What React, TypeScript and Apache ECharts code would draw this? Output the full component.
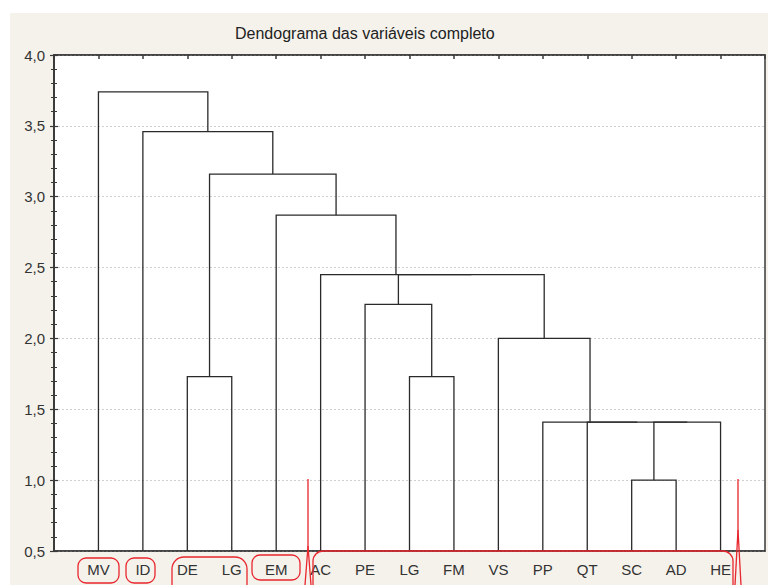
import React, { useEffect, useRef } from "react";
import * as echarts from "echarts";

// Leaves of the dendrogram, in drawing order (left to right)
const leafLabels = ["MV", "ID", "DE", "LG", "EM", "AC", "PE", "LG", "FM", "VS", "PP", "QT", "SC", "AD", "HE"];

// Merges: node indices 0..14 are leaves, merge k creates node 15 + k
const mergeLeft = [12, 15, 11, 10, 9, 7, 6, 21, 5, 4, 2, 25, 1, 0];
const mergeRight = [13, 14, 16, 17, 18, 8, 20, 19, 22, 23, 3, 24, 26, 27];
const mergeHeight = [1.0, 1.41, 1.41, 1.41, 2.0, 1.73, 2.24, 2.45, 2.45, 2.87, 1.73, 3.16, 3.46, 3.74];

// Y axis range / ticks
const yMin = 0.5;
const yMax = 4.0;
const yStep = 0.5;

const FONT = "'Liberation Sans', Arial, sans-serif";
const RED = "#e8262d";
const INK = "#2a2a2a";

function buildLinks() {
  const xs: number[] = leafLabels.map((_, i) => i + 1);
  const ys: number[] = leafLabels.map(() => yMin);
  const links: number[][] = [];
  mergeHeight.forEach((h, k) => {
    const l = mergeLeft[k];
    const r = mergeRight[k];
    links.push([xs[l], ys[l], xs[r], ys[r], h]);
    xs.push((xs[l] + xs[r]) / 2);
    ys.push(h);
  });
  return links;
}

export default function App() {
  const ref = useRef<HTMLDivElement>(null);
  useEffect(() => {
    if (!ref.current) return;
    const chart = echarts.init(ref.current, undefined, { renderer: "svg" });
    const links = buildLinks();
    const fmtY = (v: number) => v.toFixed(1).replace(".", ",");
    const axisLine = { show: true, lineStyle: { color: "#3a3a3a", width: 1.5 } };
    chart.setOption({
      animation: false,
      backgroundColor: "#f5f2eb",
      title: {
        text: "Dendograma das variáveis completo",
        left: 230,
        top: 20,
        textStyle: { fontFamily: FONT, fontSize: 16, fontWeight: "normal", color: "#222" },
      },
      grid: {
        left: 54,
        right: 3,
        top: 55,
        bottom: 34,
        show: true,
        backgroundColor: "#ffffff",
        borderColor: "#3a3a3a",
        borderWidth: 1.5,
        outerBoundsMode: "none",
        containLabel: false,
      },
      xAxis: [
        {
          type: "value",
          min: 0,
          max: leafLabels.length + 1,
          interval: 1,
          position: "bottom",
          axisLine,
          axisTick: { show: false },
          splitLine: { show: false },
          axisLabel: {
            margin: 11,
            fontFamily: FONT,
            fontSize: 15,
            color: "#333",
            formatter: (v: number) => leafLabels[v - 1] ?? "",
          },
        },
        {
          type: "value",
          min: 0,
          max: leafLabels.length + 1,
          interval: 1,
          position: "top",
          axisLine,
          axisTick: { show: true, inside: true, length: 4, lineStyle: { color: "#3a3a3a", width: 1.5 } },
          splitLine: { show: false },
          axisLabel: { show: false },
        },
      ],
      yAxis: [
        {
          type: "value",
          min: yMin,
          max: yMax,
          interval: yStep,
          position: "left",
          axisLine,
          axisTick: { show: true, inside: true, length: 4, lineStyle: { color: "#3a3a3a", width: 1.2 } },
          minorTick: { show: true, splitNumber: 5, length: 3, lineStyle: { color: "#3a3a3a", width: 1 } },
          splitLine: { show: true, lineStyle: { color: "#cfcfcf", type: [2, 2], width: 1 } },
          axisLabel: { margin: 9, fontFamily: FONT, fontSize: 15, color: "#333", formatter: fmtY },
        },
        {
          type: "value",
          min: yMin,
          max: yMax,
          interval: yStep,
          position: "right",
          axisLine,
          axisTick: { show: true, inside: true, length: 4, lineStyle: { color: "#3a3a3a", width: 1.2 } },
          minorTick: { show: true, splitNumber: 5, length: 3, lineStyle: { color: "#3a3a3a", width: 1 } },
          splitLine: { show: false },
          axisLabel: { show: false },
        },
      ],
      series: [
        {
          type: "custom",
          xAxisIndex: 0,
          yAxisIndex: 0,
          encode: { x: [0, 2], y: [1, 3, 4] },
          data: links,
          renderItem: (params: any, api: any) => {
            const xl = api.value(0);
            const yl = api.value(1);
            const xr = api.value(2);
            const yr = api.value(3);
            const h = api.value(4);
            const p1 = api.coord([xl, yl]);
            const p2 = api.coord([xl, h]);
            const p3 = api.coord([xr, h]);
            const p4 = api.coord([xr, yr]);
            return {
              type: "polyline",
              shape: { points: [p1, p2, p3, p4] },
              style: { stroke: INK, lineWidth: 1.3, fill: null },
            };
          },
        },
      ],
      graphic: [
        { type: "rect", silent: true, shape: { x: 0, y: 0, width: 768, height: 13 }, style: { fill: "#ffffff" } },
        { type: "rect", silent: true, shape: { x: 0, y: 0, width: 10, height: 585 }, style: { fill: "#ffffff" } },
        // hand-drawn red annotations
        { type: "rect", silent: true, z: 100, shape: { x: 78, y: 558, width: 41, height: 25, r: 8 }, style: { fill: "none", stroke: RED, lineWidth: 1.3 } },
        { type: "rect", silent: true, z: 100, shape: { x: 126, y: 558, width: 29, height: 25, r: 8 }, style: { fill: "none", stroke: RED, lineWidth: 1.3 } },
        { type: "rect", silent: true, z: 100, shape: { x: 172, y: 557, width: 75, height: 40, r: 12 }, style: { fill: "none", stroke: RED, lineWidth: 1.3 } },
        { type: "rect", silent: true, z: 100, shape: { x: 252, y: 555, width: 48, height: 25, r: 8 }, style: { fill: "none", stroke: RED, lineWidth: 1.3 } },
        { type: "rect", silent: true, z: 100, shape: { x: 313, y: 551, width: 420, height: 45, r: 10 }, style: { fill: "none", stroke: RED, lineWidth: 1.3 } },
        { type: "polyline", silent: true, z: 100, shape: { points: [[308, 479], [308, 546], [311, 585]] }, style: { fill: "none", stroke: RED, lineWidth: 1.3 } },
        { type: "polyline", silent: true, z: 100, shape: { points: [[308, 546], [305, 585]] }, style: { fill: "none", stroke: RED, lineWidth: 1.3 } },
        { type: "polyline", silent: true, z: 100, shape: { points: [[738, 479], [738, 530], [741, 585]] }, style: { fill: "none", stroke: RED, lineWidth: 1.3 } },
        { type: "polyline", silent: true, z: 100, shape: { points: [[738, 530], [735, 585]] }, style: { fill: "none", stroke: RED, lineWidth: 1.3 } },
      ],
    });
    return () => chart.dispose();
  }, []);
  return (
    <div
      ref={ref}
      style={{ position: "fixed", left: 0, top: 0, width: 768, height: 585 }}
    />
  );
}
